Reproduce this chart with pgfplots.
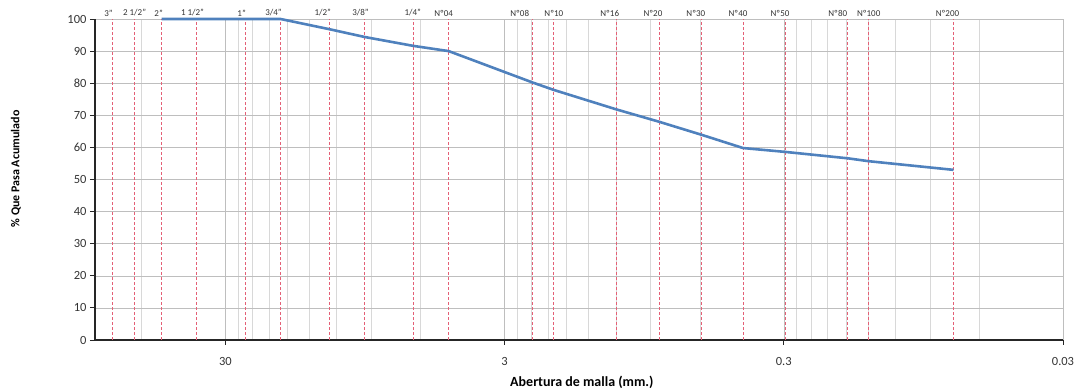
\documentclass[border=0pt]{standalone}
\usepackage{fontspec}
\setmainfont{Carlito}
\usepackage{pgfplots}
\pgfplotsset{compat=1.18}
\definecolor{curve}{RGB}{79,129,189}
\definecolor{sieve}{RGB}{228,96,118}
\definecolor{gridc}{RGB}{190,190,190}
\tikzset{sl/.style={anchor=south, inner sep=0pt, yshift=2.5pt, xshift=-5pt, font=\fontsize{9}{10}\selectfont, text=black!80}}
\begin{document}
\begin{tikzpicture}
\begin{axis}[
  scale only axis, width=968pt, height=321pt,
  xmode=log, x dir=reverse, xmin=0.03, xmax=88,
  ymin=0, ymax=100, ytick={0,10,...,100},
  xtick={0.03,0.3,3,30}, xticklabels={0.03,0.3,3,30},
  minor xtick={0.06,0.09,0.12,0.15,0.18,0.21,0.24,0.27,0.6,0.9,1.2,1.5,1.8,2.1,2.4,2.7,6,9,12,15,18,21,24,27,60},
  xmajorgrids, ymajorgrids, xminorgrids,
  major grid style={gridc, line width=0.5pt},
  minor grid style={gridc!60, line width=0.4pt},
  axis x line*=bottom, axis y line*=left,
  axis line style={black!85, line width=1.1pt, -},
  tick align=outside, major tick length=5pt, minor tick length=0pt,
  tick style={black!85, line width=0.8pt},
  /pgf/number format/assume math mode=true,
  ticklabel style={font=\fontsize{12.5}{14}\selectfont, text=black!80},
  xticklabel style={yshift=-9pt},
  xlabel={Abertura de malla (mm.)},
  ylabel={\% Que Pasa Acumulado},
  xlabel style={font=\bfseries\fontsize{14}{16}\selectfont, at={(axis description cs:0.503,-0.131)}, anchor=center},
  ylabel style={font=\bfseries\fontsize{12}{14}\selectfont, at={(axis description cs:-0.0816,0.533)}, anchor=center},
  clip=false,
]
\pgfplotsinvokeforeach{76.2,63.5,50.8,38.1,25.4,19.05,12.7,9.525,6.35,4.76,2.38,2.0,1.19,0.84,0.59,0.42,0.297,0.177,0.149,0.074}{
  \addplot[sieve, densely dashed, line width=0.9pt, forget plot] coordinates {(#1,0) (#1,100)};
}
\addplot[curve, line width=2.6pt] coordinates {
(50.8,100) (38.1,100) (25.4,100) (19.05,100) (12.7,96.8) (9.525,94.4) (6.35,91.6) (4.76,90)
(2.38,80.2) (2.0,77.9) (1.19,71.8) (0.84,68) (0.59,63.9) (0.42,59.8) (0.297,58.6)
(0.177,56.6) (0.149,55.7) (0.074,53)
};
\node[sl, xshift=1pt] at (axis cs:76.2,100) {3"};
\node[sl, xshift=5pt] at (axis cs:63.5,100) {2 1/2"};
\node[sl, xshift=2pt] at (axis cs:50.8,100) {2"};
\node[sl, xshift=1pt] at (axis cs:38.1,100) {1 1/2"};
\node[sl, xshift=1pt] at (axis cs:25.4,100) {1"};
\node[sl, xshift=-2pt] at (axis cs:19.05,100) {3/4"};
\node[sl, xshift=-2pt] at (axis cs:12.7,100) {1/2"};
\node[sl, xshift=1pt] at (axis cs:9.525,100) {3/8"};
\node[sl, xshift=4pt] at (axis cs:6.35,100) {1/4"};
\node[sl] at (axis cs:4.76,100) {Nº04};
\node[sl, xshift=-8pt] at (axis cs:2.38,100) {Nº08};
\node[sl, xshift=5pt] at (axis cs:2.0,100) {Nº10};
\node[sl, xshift=-2pt] at (axis cs:1.19,100) {Nº16};
\node[sl, xshift=-1pt] at (axis cs:0.84,100) {Nº20};
\node[sl, xshift=-1pt] at (axis cs:0.59,100) {Nº30};
\node[sl] at (axis cs:0.42,100) {Nº40};
\node[sl] at (axis cs:0.297,100) {Nº50};
\node[sl, xshift=-5pt] at (axis cs:0.177,100) {Nº80};
\node[sl, xshift=5pt] at (axis cs:0.149,100) {Nº100};
\node[sl, xshift=-1pt] at (axis cs:0.074,100) {Nº200};
\end{axis}
\path (current axis.south west) ++(-95pt,-49pt);
\path (current axis.north east) ++(18pt,19pt);
\end{tikzpicture}
\end{document}
